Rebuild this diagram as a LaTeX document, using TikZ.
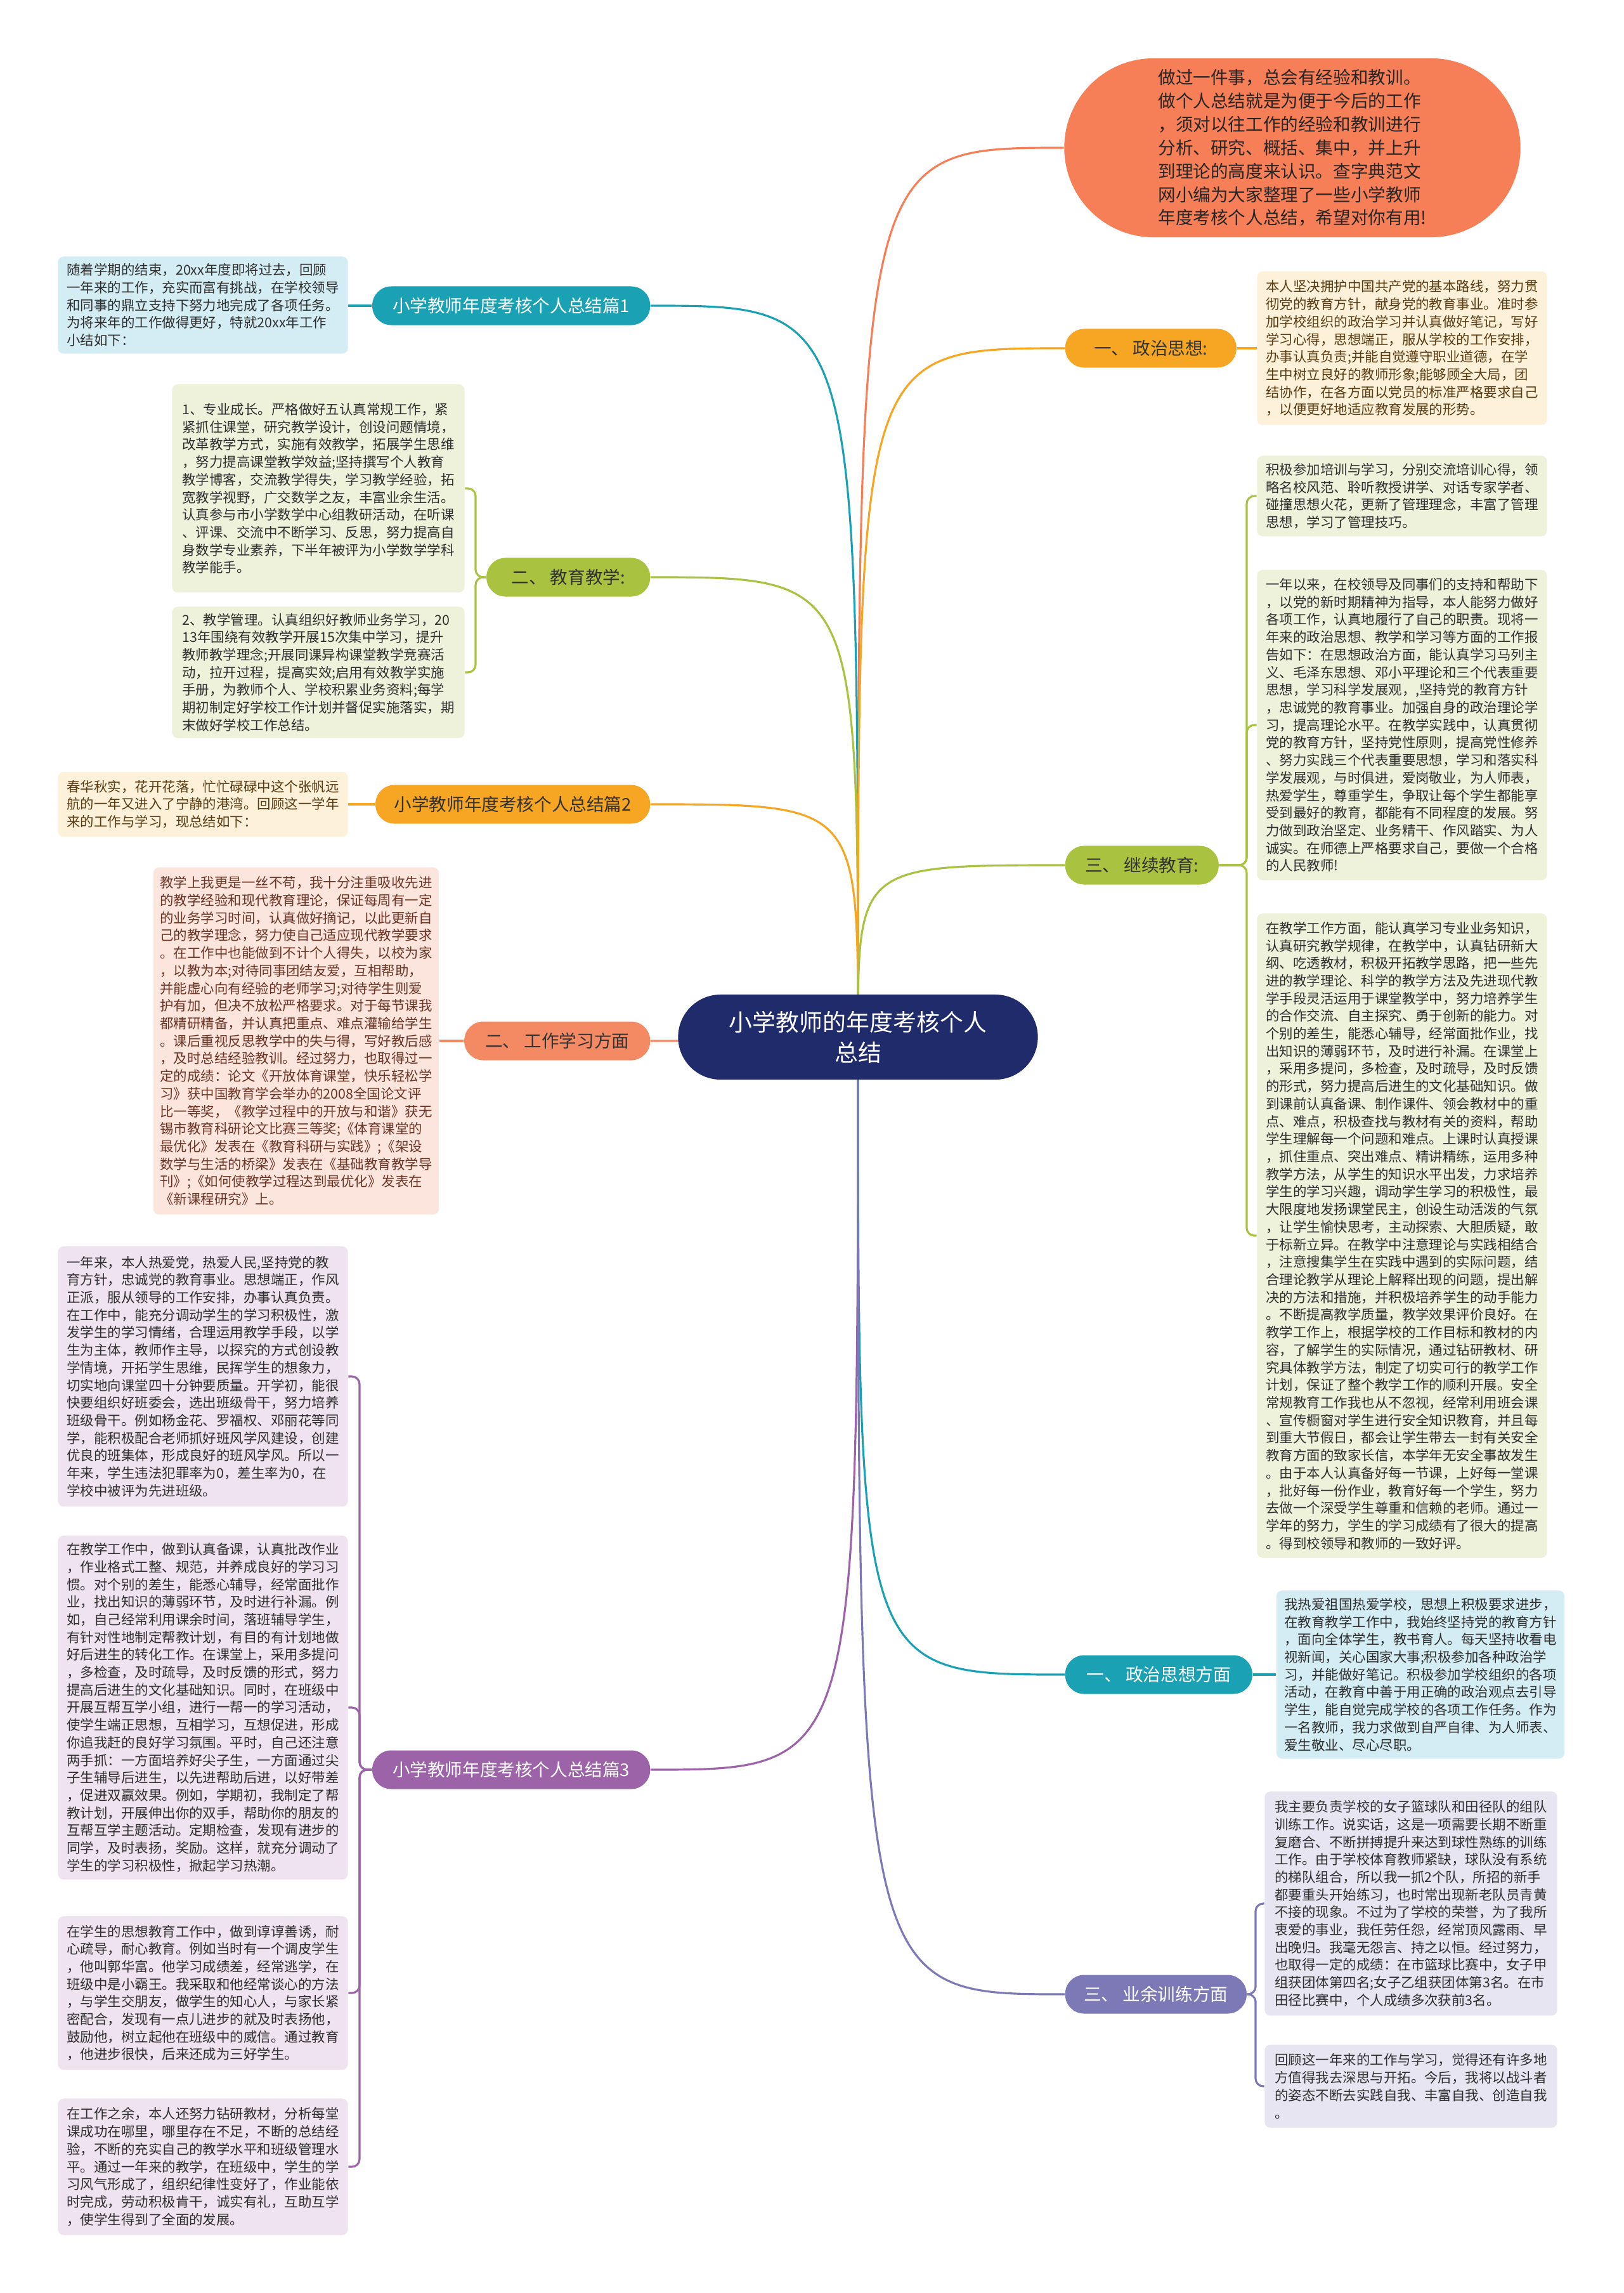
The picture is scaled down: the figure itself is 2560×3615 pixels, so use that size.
\documentclass[tikz,border=0pt]{standalone}
\usepackage{fontspec}
\setmainfont{Noto Sans CJK SC}
\usetikzlibrary{positioning, backgrounds, calc}

\definecolor{navyc}{HTML}{202B6B}
\definecolor{coralc}{HTML}{F77F57}
\definecolor{tealc}{HTML}{1AA1B4}
\definecolor{greenc}{HTML}{A9C23F}
\definecolor{orangec}{HTML}{F6A623}
\definecolor{salmonc}{HTML}{F48A64}
\definecolor{purplec}{HTML}{9C63A8}
\definecolor{slatec}{HTML}{7D79B6}
\definecolor{bluebox}{HTML}{D4EDF4}
\definecolor{greenbox}{HTML}{EEF2DA}
\definecolor{peachbox}{HTML}{FDF1DA}
\definecolor{pinkbox}{HTML}{FCE5DC}
\definecolor{purplebox}{HTML}{EEE3EF}
\definecolor{lavbox}{HTML}{E6E5F1}
\definecolor{inkc}{HTML}{2F2F2F}
\definecolor{brownink}{HTML}{5A3B12}
\definecolor{pinkink}{HTML}{6B3526}

\begin{document}
\begin{tikzpicture}[
    x=0.01cm, y=-0.01cm,
    root/.style={rectangle, rounded corners=0.67cm, fill=navyc, text=white, align=center, minimum width=5.67cm, minimum height=1.34cm, font=\fontsize{10.5}{13.7}\selectfont},
    branch/.style={rectangle, rounded corners=0.3cm, minimum height=0.61cm, inner xsep=0.2cm, font=\fontsize{7.85}{9}\selectfont},
    leaf/.style={rectangle, rounded corners=0.09cm, align=left, inner sep=0.1cm, text=inkc, font=\fontsize{6.1}{7.88}\selectfont},
    link/.style={line width=0.9pt},
    fork/.style={link, rounded corners=0.12cm}
]

\useasboundingbox (0,0) rectangle (2560,3615);

\node[root] (root) at (1353,1635) {小学教师的年度考核个人\\总结};

\node[rectangle, rounded corners=1.41cm, fill=coralc, text=black!85, align=left, minimum width=7.19cm, minimum height=2.82cm, font=\fontsize{7.85}{10.5}\selectfont] (intro) at (2038,233) {做过一件事，总会有经验和教训。\\做个人总结就是为便于今后的工作\\，须对以往工作的经验和教训进行\\分析、研究、概括、集中，并上升\\到理论的高度来认识。查字典范文\\网小编为大家整理了一些小学教师\\年度考核个人总结，希望对你有用!};

\node[branch, fill=tealc, text=white, anchor=east, minimum width=4.38cm] (n1) at (1026,482) {小学教师年度考核个人总结篇1};
\node[branch, fill=greenc, text=black!80, anchor=east, minimum width=2.58cm] (n2) at (1026,910) {二、 教育教学:};
\node[branch, fill=orangec, text=black!80, anchor=east, minimum width=4.33cm] (n3) at (1026,1268) {小学教师年度考核个人总结篇2};
\node[branch, fill=salmonc, text=black!80, anchor=east, minimum width=2.93cm] (n4) at (1026,1641) {二、 工作学习方面};
\node[branch, fill=purplec, text=white, anchor=east, minimum width=4.38cm] (n5) at (1026,2790) {小学教师年度考核个人总结篇3};

\node[branch, fill=orangec, text=black!80, anchor=west, minimum width=2.70cm] (m1) at (1679,549) {一、 政治思想:};
\node[branch, fill=greenc, text=black!80, anchor=west, minimum width=2.42cm] (m2) at (1679,1364) {三、 继续教育:};
\node[branch, fill=tealc, text=white, anchor=west, minimum width=2.95cm] (m3) at (1679,2640) {一、 政治思想方面};
\node[branch, fill=slatec, text=white, anchor=west, minimum width=2.86cm] (m4) at (1679,3144) {三、 业余训练方面};

\node[leaf, fill=bluebox, minimum width=4.57cm, minimum height=1.53cm] (b1) at (320,481) {随着学期的结束，20xx年度即将过去，回顾\\一年来的工作，充实而富有挑战，在学校领导\\和同事的鼎立支持下努力地完成了各项任务。\\为将来年的工作做得更好，特就20xx年工作\\小结如下：};

\node[leaf, fill=greenbox, minimum width=4.61cm, minimum height=3.28cm] (b2a) at (502,770) {1、专业成长。严格做好五认真常规工作，紧\\紧抓住课堂，研究教学设计，创设问题情境，\\改革教学方式，实施有效教学，拓展学生思维\\，努力提高课堂教学效益;坚持撰写个人教育\\教学博客，交流教学得失，学习教学经验，拓\\宽教学视野，广交数学之友，丰富业余生活。\\认真参与市小学数学中心组教研活动，在听课\\、评课、交流中不断学习、反思，努力提高自\\身数学专业素养，下半年被评为小学数学学科\\教学能手。};
\node[leaf, fill=greenbox, minimum width=4.61cm, minimum height=2.07cm] (b2b) at (502,1060) {2、教学管理。认真组织好教师业务学习，20\\13年围绕有效教学开展15次集中学习，提升\\教师教学理念;开展同课异构课堂教学竞赛活\\动，拉开过程，提高实效;启用有效教学实施\\手册，为教师个人、学校积累业务资料;每学\\期初制定好学校工作计划并督促实施落实，期\\末做好学校工作总结。};

\node[leaf, fill=peachbox, text=brownink, minimum width=4.57cm, minimum height=1.02cm] (b3) at (320,1268) {春华秋实，花开花落，忙忙碌碌中这个张帆远\\航的一年又进入了宁静的港湾。回顾这一学年\\来的工作与学习，现总结如下：};

\node[leaf, fill=pinkbox, text=pinkink, minimum width=4.50cm, minimum height=5.47cm] (b4) at (467,1641) {教学上我更是一丝不苟，我十分注重吸收先进\\的教学经验和现代教育理论，保证每周有一定\\的业务学习时间，认真做好摘记，以此更新自\\己的教学理念，努力使自己适应现代教学要求\\。在工作中也能做到不计个人得失，以校为家\\，以教为本;对待同事团结友爱，互相帮助，\\并能虚心向有经验的老师学习;对待学生则爱\\护有加，但决不放松严格要求。对于每节课我\\都精研精备，并认真把重点、难点灌输给学生\\。课后重视反思教学中的失与得，写好教后感\\，及时总结经验教训。经过努力，也取得过一\\定的成绩：论文《开放体育课堂，快乐轻松学\\习》获中国教育学会举办的2008全国论文评\\比一等奖，《教学过程中的开放与和谐》获无\\锡市教育科研论文比赛三等奖;《体育课堂的\\最优化》发表在《教育科研与实践》;《架设\\数学与生活的桥梁》发表在《基础教育教学导\\刊》;《如何使教学过程达到最优化》发表在\\《新课程研究》上。};

\node[leaf, fill=purplebox, minimum width=4.57cm, minimum height=4.10cm] (b5a) at (320,2170) {一年来，本人热爱党，热爱人民,坚持党的教\\育方针，忠诚党的教育事业。思想端正，作风\\正派，服从领导的工作安排，办事认真负责。\\在工作中，能充分调动学生的学习积极性，激\\发学生的学习情绪，合理运用教学手段，以学\\生为主体，教师作主导，以探究的方式创设教\\学情境，开拓学生思维，民挥学生的想象力，\\切实地向课堂四十分钟要质量。开学初，能很\\快要组织好班委会，选出班级骨干，努力培养\\班级骨干。例如杨金花、罗福权、邓丽花等同\\学，能积极配合老师抓好班风学风建设，创建\\优良的班集体，形成良好的班风学风。所以一\\年来，学生违法犯罪率为0，差生率为0，在\\学校中被评为先进班级。};
\node[leaf, fill=purplebox, minimum width=4.57cm, minimum height=5.42cm] (b5b) at (320,2692) {在教学工作中，做到认真备课，认真批改作业\\，作业格式工整、规范，并养成良好的学习习\\惯。对个别的差生，能悉心辅导，经常面批作\\业，找出知识的薄弱环节，及时进行补漏。例\\如，自己经常利用课余时间，落班辅导学生，\\有针对性地制定帮教计划，有目的有计划地做\\好后进生的转化工作。在课堂上，采用多提问\\，多检查，及时疏导，及时反馈的形式，努力\\提高后进生的文化基础知识。同时，在班级中\\开展互帮互学小组，进行一帮一的学习活动，\\使学生端正思想，互相学习，互想促进，形成\\你追我赶的良好学习氛围。平时，自己还注意\\两手抓：一方面培养好尖子生，一方面通过尖\\子生辅导后进生，以先进帮助后进，以好带差\\，促进双赢效果。例如，学期初，我制定了帮\\教计划，开展伸出你的双手，帮助你的朋友的\\互帮互学主题活动。定期检查，发现有进步的\\同学，及时表扬，奖励。这样，就充分调动了\\学生的学习积极性，掀起学习热潮。};
\node[leaf, fill=purplebox, minimum width=4.57cm, minimum height=2.42cm] (b5c) at (320,3142) {在学生的思想教育工作中，做到谆谆善诱，耐\\心疏导，耐心教育。例如当时有一个调皮学生\\，他叫郭华富。他学习成绩差，经常逃学，在\\班级中是小霸王。我采取和他经常谈心的方法\\，与学生交朋友，做学生的知心人，与家长紧\\密配合，发现有一点儿进步的就及时表扬他，\\鼓励他，树立起他在班级中的威信。通过教育\\，他进步很快，后来还成为三好学生。};
\node[leaf, fill=purplebox, minimum width=4.57cm, minimum height=2.15cm] (b5d) at (320,3416) {在工作之余，本人还努力钻研教材，分析每堂\\课成功在哪里，哪里存在不足，不断的总结经\\验，不断的充实自己的教学水平和班级管理水\\平。通过一年来的教学，在班级中，学生的学\\习风气形成了，组织纪律性变好了，作业能依\\时完成，劳动积极肯干，诚实有礼，互助互学\\，使学生得到了全面的发展。};

\node[leaf, fill=peachbox, text=brownink, minimum width=4.57cm, minimum height=2.42cm] (r1) at (2211,549) {本人坚决拥护中国共产党的基本路线，努力贯\\彻党的教育方针，献身党的教育事业。准时参\\加学校组织的政治学习并认真做好笔记，写好\\学习心得，思想端正，服从学校的工作安排，\\办事认真负责;并能自觉遵守职业道德，在学\\生中树立良好的教师形象;能够顾全大局，团\\结协作，在各方面以党员的标准严格要求自己\\，以便更好地适应教育发展的形势。};

\node[leaf, fill=greenbox, minimum width=4.57cm, minimum height=1.27cm] (r2a) at (2211,782) {积极参加培训与学习，分别交流培训心得，领\\略名校风范、聆听教授讲学、对话专家学者、\\碰撞思想火花，更新了管理理念，丰富了管理\\思想，学习了管理技巧。};
\node[leaf, fill=greenbox, minimum width=4.57cm, minimum height=4.89cm] (r2b) at (2211,1143) {一年以来，在校领导及同事们的支持和帮助下\\，以党的新时期精神为指导，本人能努力做好\\各项工作，认真地履行了自己的职责。现将一\\年来的政治思想、教学和学习等方面的工作报\\告如下：在思想政治方面，能认真学习马列主\\义、毛泽东思想、邓小平理论和三个代表重要\\思想，学习科学发展观，,坚持党的教育方针\\，忠诚党的教育事业。加强自身的政治理论学\\习，提高理论水平。在教学实践中，认真贯彻\\党的教育方针，坚持党性原则，提高党性修养\\、努力实践三个代表重要思想，学习和落实科\\学发展观，与时俱进，爱岗敬业，为人师表，\\热爱学生，尊重学生，争取让每个学生都能享\\受到最好的教育，都能有不同程度的发展。努\\力做到政治坚定、业务精干、作风踏实、为人\\诚实。在师德上严格要求自己，要做一个合格\\的人民教师!};
\node[leaf, fill=greenbox, minimum width=4.57cm, minimum height=10.15cm] (r2c) at (2211,1948) {在教学工作方面，能认真学习专业业务知识，\\认真研究教学规律，在教学中，认真钻研新大\\纲、吃透教材，积极开拓教学思路，把一些先\\进的教学理论、科学的教学方法及先进现代教\\学手段灵活运用于课堂教学中，努力培养学生\\的合作交流、自主探究、勇于创新的能力。对\\个别的差生，能悉心辅导，经常面批作业，找\\出知识的薄弱环节，及时进行补漏。在课堂上\\，采用多提问，多检查，及时疏导，及时反馈\\的形式，努力提高后进生的文化基础知识。做\\到课前认真备课、制作课件、领会教材中的重\\点、难点，积极查找与教材有关的资料，帮助\\学生理解每一个问题和难点。上课时认真授课\\，抓住重点、突出难点、精讲精练，运用多种\\教学方法，从学生的知识水平出发，力求培养\\学生的学习兴趣，调动学生学习的积极性，最\\大限度地发扬课堂民主，创设生动活泼的气氛\\，让学生愉快思考，主动探索、大胆质疑，敢\\于标新立异。在教学中注意理论与实践相结合\\，注意搜集学生在实践中遇到的实际问题，结\\合理论教学从理论上解释出现的问题，提出解\\决的方法和措施，并积极培养学生的动手能力\\。不断提高教学质量，教学效果评价良好。在\\教学工作上，根据学校的工作目标和教材的内\\容，了解学生的实际情况，通过钻研教材、研\\究具体教学方法，制定了切实可行的教学工作\\计划，保证了整个教学工作的顺利开展。安全\\常规教育工作我也从不忽视，经常利用班会课\\、宣传橱窗对学生进行安全知识教育，并且每\\到重大节假日，都会让学生带去一封有关安全\\教育方面的致家长信，本学年无安全事故发生\\。由于本人认真备好每一节课，上好每一堂课\\，批好每一份作业，教育好每一个学生，努力\\去做一个深受学生尊重和信赖的老师。通过一\\学年的努力，学生的学习成绩有了很大的提高\\。得到校领导和教师的一致好评。};

\node[leaf, fill=bluebox, minimum width=4.54cm, minimum height=2.65cm] (r3) at (2240,2640) {我热爱祖国热爱学校，思想上积极要求进步，\\在教育教学工作中，我始终坚持党的教育方针\\，面向全体学生，教书育人。每天坚持收看电\\视新闻，关心国家大事;积极参加各种政治学\\习，并能做好笔记。积极参加学校组织的各项\\活动，在教育中善于用正确的政治观点去引导\\学生，能自觉完成学校的各项工作任务。作为\\一名教师，我力求做到自严自律、为人师表、\\爱生敬业、尽心尽职。};

\node[leaf, fill=lavbox, minimum width=4.61cm, minimum height=3.53cm] (r4a) at (2225,3001) {我主要负责学校的女子篮球队和田径队的组队\\训练工作。说实话，这是一项需要长期不断重\\复磨合、不断拼搏提升来达到球性熟练的训练\\工作。由于学校体育教师紧缺，球队没有系统\\的梯队组合，所以我一抓2个队，所招的新手\\都要重头开始练习，也时常出现新老队员青黄\\不接的现象。不过为了学校的荣誉，为了我所\\衷爱的事业，我任劳任怨，经常顶风露雨、早\\出晚归。我毫无怨言、持之以恒。经过努力，\\也取得一定的成绩：在市篮球比赛中，女子甲\\组获团体第四名;女子乙组获团体第3名。在市\\田径比赛中，个人成绩多次获前3名。};
\node[leaf, fill=lavbox, minimum width=4.61cm, minimum height=1.31cm] (r4b) at (2225,3289) {回顾这一年来的工作与学习，觉得还有许多地\\方值得我去深思与开拓。今后，我将以战斗者\\的姿态不断去实践自我、丰富自我、创造自我\\。};

\coordinate (k2) at (750,910);
\coordinate (k5) at (567,2790);
\coordinate (km2) at (1966,1364);
\coordinate (km4) at (1980,3144);

\begin{scope}[on background layer]
    \fill[white] (0,0) rectangle (2560,3615);

    \draw[link, coralc] (root.center) .. controls (root.center |- intro.west) .. (intro.west);
    \draw[link, tealc] (root.center) .. controls (root.center |- n1.east) .. (n1.east);
    \draw[link, greenc] (root.center) .. controls (root.center |- n2.east) .. (n2.east);
    \draw[link, orangec] (root.center) .. controls (root.center |- n3.east) .. (n3.east);
    \draw[link, salmonc] (root.center) .. controls (root.center |- n4.east) .. (n4.east);
    \draw[link, purplec] (root.center) .. controls (root.center |- n5.east) .. (n5.east);
    \draw[link, orangec] (root.center) .. controls (root.center |- m1.west) .. (m1.west);
    \draw[link, greenc] (root.center) .. controls (root.center |- m2.west) .. (m2.west);
    \draw[link, tealc] (root.center) .. controls (root.center |- m3.west) .. (m3.west);
    \draw[link, slatec] (root.center) .. controls (root.center |- m4.west) .. (m4.west);

    \draw[link, tealc] (n1.west) -- (n1.west -| b1.east);
    \draw[link, orangec] (n3.west) -- (n3.west -| b3.east);
    \draw[link, salmonc] (n4.west) -- (n4.west -| b4.east);
    \draw[link, orangec] (m1.east) -- (m1.east -| r1.west);
    \draw[link, tealc] (m3.east) -- (m3.east -| r3.west);

    \draw[fork, greenc] (n2.west) -- (k2) |- (b2a.east);
    \draw[fork, greenc] (n2.west) -- (k2) |- (b2b.east);
    \draw[fork, purplec] (n5.west) -- (k5) |- (b5a.east);
    \draw[fork, purplec] (n5.west) -- (k5) |- (b5b.east);
    \draw[fork, purplec] (n5.west) -- (k5) |- (b5c.east);
    \draw[fork, purplec] (n5.west) -- (k5) |- (b5d.east);
    \draw[fork, greenc] (m2.east) -- (km2) |- (r2a.west);
    \draw[fork, greenc] (m2.east) -- (km2) |- (r2b.west);
    \draw[fork, greenc] (m2.east) -- (km2) |- (r2c.west);
    \draw[fork, slatec] (m4.east) -- (km4) |- (r4a.west);
    \draw[fork, slatec] (m4.east) -- (km4) |- (r4b.west);
\end{scope}

\end{tikzpicture}
\end{document}
